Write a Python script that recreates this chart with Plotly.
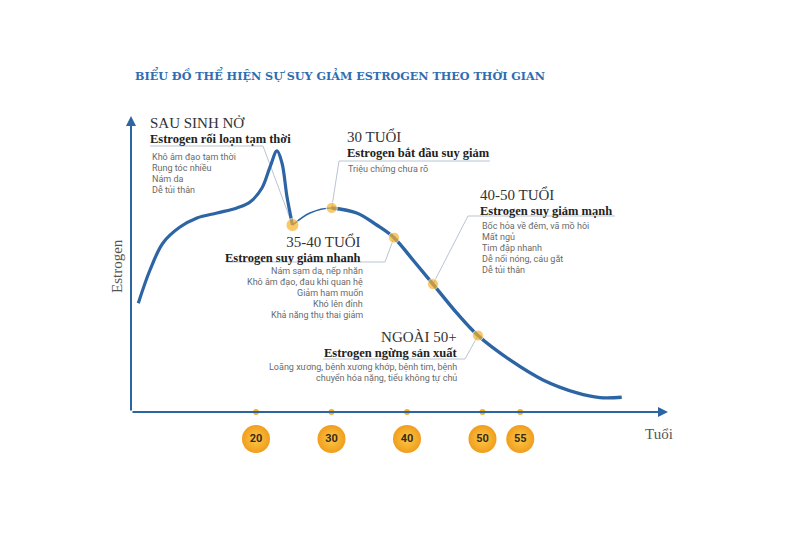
import plotly.graph_objects as go

# ---------------- data ----------------
curve_age = [4.41, 5.96, 7.68, 9.93, 12.19, 14.83, 17.48, 19.21, 20.79, 21.85, 22.78, 23.44, 24.11, 24.83,
             27.15, 30.03, 33.34, 35.99, 38.28, 40.79, 43.44, 46.58, 49.40, 53.64, 58.01, 62.52, 65.56, 68.44]
curve_level = [37.0, 48.3, 57.5, 62.9, 66.0, 67.7, 69.4, 71.4, 76.2, 83.3, 88.8, 84.7, 73.1, 63.6,
               67.7, 69.4, 67.7, 63.6, 59.3, 51.7, 43.5, 33.7, 26.0, 17.7, 10.9, 6.5, 4.9, 5.0]
dot_age = [24.83, 30.03, 38.28, 43.44, 49.40]
dot_level = [63.6, 69.4, 59.3, 43.5, 26.0]
tick_age = [20, 30, 40, 50, 55]
tick_labels = ["20", "30", "40", "50", "55"]

title = "BIỂU ĐỒ THỂ HIỆN SỰ SUY GIẢM ESTROGEN THEO THỜI GIAN"
stages = [
    dict(head="SAU SINH NỞ", sub="Estrogen rối loạn tạm thời",
         lines=["Khô âm đạo tạm thời", "Rụng tóc nhiều", "Nám da", "Dễ tủi thân"]),
    dict(head="30 TUỔI", sub="Estrogen bắt đầu suy giảm", lines=["Triệu chứng chưa rõ"]),
    dict(head="35-40 TUỔI", sub="Estrogen suy giảm nhanh",
         lines=["Nám sạm da, nếp nhăn", "Khô âm đạo, đau khi quan hệ", "Giảm ham muốn",
                "Khó lên đỉnh", "Khả năng thụ thai giảm"]),
    dict(head="40-50 TUỔI", sub="Estrogen suy giảm mạnh",
         lines=["Bốc hỏa về đêm, vã mồ hôi", "Mất ngủ", "Tim đập nhanh",
                "Dễ nổi nóng, cáu gắt", "Dễ tủi thân"]),
    dict(head="NGOÀI 50+", sub="Estrogen ngừng sản xuất",
         lines=["Loãng xương, bệnh xương khớp, bệnh tim, bệnh",
                "chuyển hóa nặng, tiểu không tự chủ"]),
]

# ---------------- geometry (page pixels -> data units) ----------------
PAGE_OFF = 8            # default body margin of the html page
W, H = 800 - PAGE_OFF, 549 - PAGE_OFF
PX_PER_YEAR = 7.55
AGE_REF_PX = 256        # pixel of age 20
BASE_PX = 412           # pixel of level 0
PX_PER_LEVEL = 2.94


def gx(px):
    return 20 + (px - AGE_REF_PX) / PX_PER_YEAR


def gy(py):
    return (BASE_PX - py) / PX_PER_LEVEL


BLUE = "#2c64a4"
TITLE_BLUE = "#2f6db3"
ORANGE = "#f6b12a"
GRAY = "#6a6a6a"
LEADER = "#b9c5d2"
SERIF = "Liberation Serif"
SANS = "Roboto"

fig = go.Figure()

# thin part between the dip and the 30-year peak
fig.add_trace(go.Scatter(x=curve_age[13:17], y=curve_level[13:17], mode="lines",
                         line=dict(color=BLUE, width=1.6, shape="spline"), hoverinfo="skip"))
# thick parts
fig.add_trace(go.Scatter(x=curve_age[:14], y=curve_level[:14], mode="lines",
                         line=dict(color=BLUE, width=3.2, shape="spline"), hoverinfo="skip"))
fig.add_trace(go.Scatter(x=curve_age[15:], y=curve_level[15:], mode="lines",
                         line=dict(color=BLUE, width=3.4, shape="spline"), hoverinfo="skip"))

# stage dots on the curve
fig.add_trace(go.Scatter(x=dot_age, y=dot_level, mode="markers",
                         marker=dict(color=ORANGE, size=[13, 11, 11, 11, 11]), hoverinfo="skip"))

# small dots on x axis
fig.add_trace(go.Scatter(x=tick_age, y=[0] * len(tick_age), mode="markers",
                         marker=dict(color=ORANGE, size=6), hoverinfo="skip"))

# big age badges
fig.add_trace(go.Scatter(x=tick_age, y=[gy(439)] * len(tick_age), mode="markers+text",
                         text=tick_labels, textposition="middle center",
                         textfont=dict(family=SANS, size=11, color="#3a2a12", weight="bold"),
                         marker=dict(color="#f19d1c", size=28,
                                     gradient=dict(type="radial", color="#fcc94a")),
                         hoverinfo="skip"))

annotations = []
shapes = []

# axes with arrows
annotations.append(dict(x=gx(668), y=0, ax=gx(131), ay=0, xref="x", yref="y", axref="x", ayref="y",
                        text="", showarrow=True, arrowhead=2, arrowsize=1, arrowwidth=2,
                        arrowcolor=BLUE))
annotations.append(dict(x=gx(131), y=gy(116), ax=gx(131), ay=0, xref="x", yref="y", axref="x", ayref="y",
                        text="", showarrow=True, arrowhead=2, arrowsize=1, arrowwidth=2,
                        arrowcolor=BLUE))

# title & axis labels
annotations.append(dict(x=gx(133), y=gy(75), xref="x", yref="y", text=title, showarrow=False,
                        xanchor="left", yanchor="middle",
                        font=dict(family="DejaVu Serif", size=11.2, color=TITLE_BLUE, weight="bold")))
annotations.append(dict(x=gx(117), y=gy(266), xref="x", yref="y", text="Estrogen", showarrow=False,
                        textangle=-90, xanchor="center", yanchor="middle",
                        font=dict(family=SERIF, size=15, color="#555555")))
annotations.append(dict(x=gx(643), y=gy(434), xref="x", yref="y", text="Tuổi", showarrow=False,
                        xanchor="left", yanchor="middle",
                        font=dict(family=SERIF, size=15, color="#555555")))

# stage text blocks: (anchor, header x, header-line y, sub-line y, lines x, first line y)
blocks = [
    ("left", 148, 121, 137, 150, 157),
    ("left", 345, 135, 150, 346, 169),
    ("right", 363, 241, 255, 365, 271),
    ("left", 478, 193, 208, 480, 226),
    ("right", 459, 336, 350, 459, 367),
]
for st, (anc, hx, hy, sy, lx, ly) in zip(stages, blocks):
    txt = ("<span style='font-size:15px;color:#333333'>{}</span><br>"
           "<span style='font-size:12.5px;font-weight:bold;color:#222222'>{}</span>").format(st["head"], st["sub"])
    annotations.append(dict(x=gx(hx), y=gy((hy + sy) / 2 + 1), xref="x", yref="y", text=txt,
                            showarrow=False, xanchor=anc, yanchor="middle", align=anc,
                            font=dict(family=SERIF, size=11.3, color="#333333")))
    for i, ln in enumerate(st["lines"]):
        annotations.append(dict(x=gx(lx), y=gy(ly + 11 * i), xref="x", yref="y", text=ln,
                                showarrow=False, xanchor=anc, yanchor="middle",
                                font=dict(family=SANS, size=9, color=GRAY)))

# leader lines: horizontal start, horizontal end (pixels), then to the stage dot
leaders = [
    (150, 263, 146, 0),
    (490, 339, 161, 1),
    (227, 385, 262, 2),
    (615, 468, 216, 3),
    (323, 465, 359, 4),
]
for xa, xb, yy, di in leaders:
    path = "M {} {} L {} {} L {} {}".format(gx(xa), gy(yy), gx(xb), gy(yy), dot_age[di], dot_level[di])
    shapes.append(dict(type="path", path=path, xref="x", yref="y", layer="below",
                       line=dict(color=LEADER, width=1)))

fig.update_layout(
    width=W, height=H,
    margin=dict(l=0, r=0, t=0, b=0),
    paper_bgcolor="white", plot_bgcolor="white",
    showlegend=False,
    xaxis=dict(range=[gx(PAGE_OFF), gx(800)], visible=False, fixedrange=True),
    yaxis=dict(range=[gy(549), gy(PAGE_OFF)], visible=False, fixedrange=True),
    annotations=annotations, shapes=shapes,
)

fig.write_html("out.html")
